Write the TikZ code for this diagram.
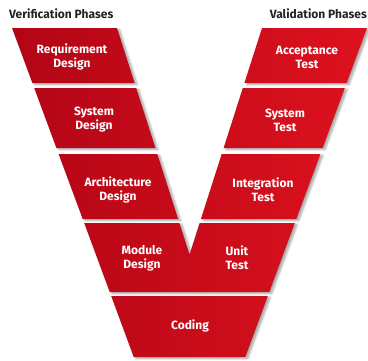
\documentclass[tikz,border=0pt]{standalone}
\usepackage{fontspec}
\setmainfont{Fira Sans}
\usetikzlibrary{shadows.blur}
\definecolor{vdark}{RGB}{178,5,22}
\definecolor{vlight}{RGB}{222,18,30}
\definecolor{hdrcol}{RGB}{35,35,35}
\begin{document}
\begin{tikzpicture}[x=1pt,y=-1pt,
  lbl/.style={text=white,font=\bfseries\fontsize{12}{14}\selectfont,align=center,inner sep=0pt},
  hdr/.style={text=hdrcol,font=\bfseries\fontsize{12}{13}\selectfont,inner sep=0pt},
  shadowed/.style={blur shadow={shadow xshift=2.5pt,shadow yshift=-1.5pt,shadow opacity=35,shadow blur steps=6}}]
\useasboundingbox (0,0) rectangle (368,360);
% band outlines
\def\bandA{(12,28) -- (117,28) -- (134.6,83) -- (32.4,83) -- cycle}
\def\bandB{(34.2,88) -- (136.2,88) -- (155.4,148) -- (56.4,148) -- cycle}
\def\bandC{(58.6,154) -- (157.3,154) -- (178.1,219) -- (82.7,219) -- cycle}
\def\bandD{(84.2,223) -- (179.4,223) -- (189.5,254.6) -- (199.6,223) -- (294.8,223) -- (269.3,292) -- (109.7,292) -- cycle}
\def\bandE{(111.2,296) -- (267.8,296) -- (245.3,357) -- (133.7,357) -- cycle}
\def\bandF{(262,28) -- (367,28) -- (346.6,83) -- (244.4,83) -- cycle}
\def\bandG{(242.8,88) -- (344.8,88) -- (322.6,148) -- (223.6,148) -- cycle}
\def\bandH{(221.7,154) -- (320.4,154) -- (296.3,219) -- (200.9,219) -- cycle}
% shadows
\path[shadowed] \bandA;
\path[shadowed] \bandB;
\path[shadowed] \bandC;
\path[shadowed] \bandD;
\path[shadowed] \bandE;
\path[shadowed] \bandF;
\path[shadowed] \bandG;
\path[shadowed] \bandH;
% fill with one horizontal shading
\begin{scope}
\clip \bandA \bandB \bandC \bandD \bandE \bandF \bandG \bandH;
\shade[left color=vdark,right color=vlight] (10,20) rectangle (368,360);
\end{scope}
% headers
\node[hdr,anchor=west] (hv) at (9,14) {Verification Phases};
\node[hdr,anchor=east] (hr) at (367,14) {Validation Phases};
% labels
\node[lbl] (req) at (72,57) {Requirement\\Design};
\node[lbl] (sysd) at (94,120) {System\\Design};
\node[lbl] (arch) at (118,190) {Architecture\\Design};
\node[lbl] (mod) at (142,258) {Module\\Design};
\node[lbl] (code) at (190,326) {Coding};
\node[lbl] (acc) at (307,57) {Acceptance\\Test};
\node[lbl] (syst) at (285,120) {System\\Test};
\node[lbl] (integ) at (263,190) {Integration\\Test};
\node[lbl] (unit) at (237,258) {Unit\\Test};
\end{tikzpicture}
\end{document}
